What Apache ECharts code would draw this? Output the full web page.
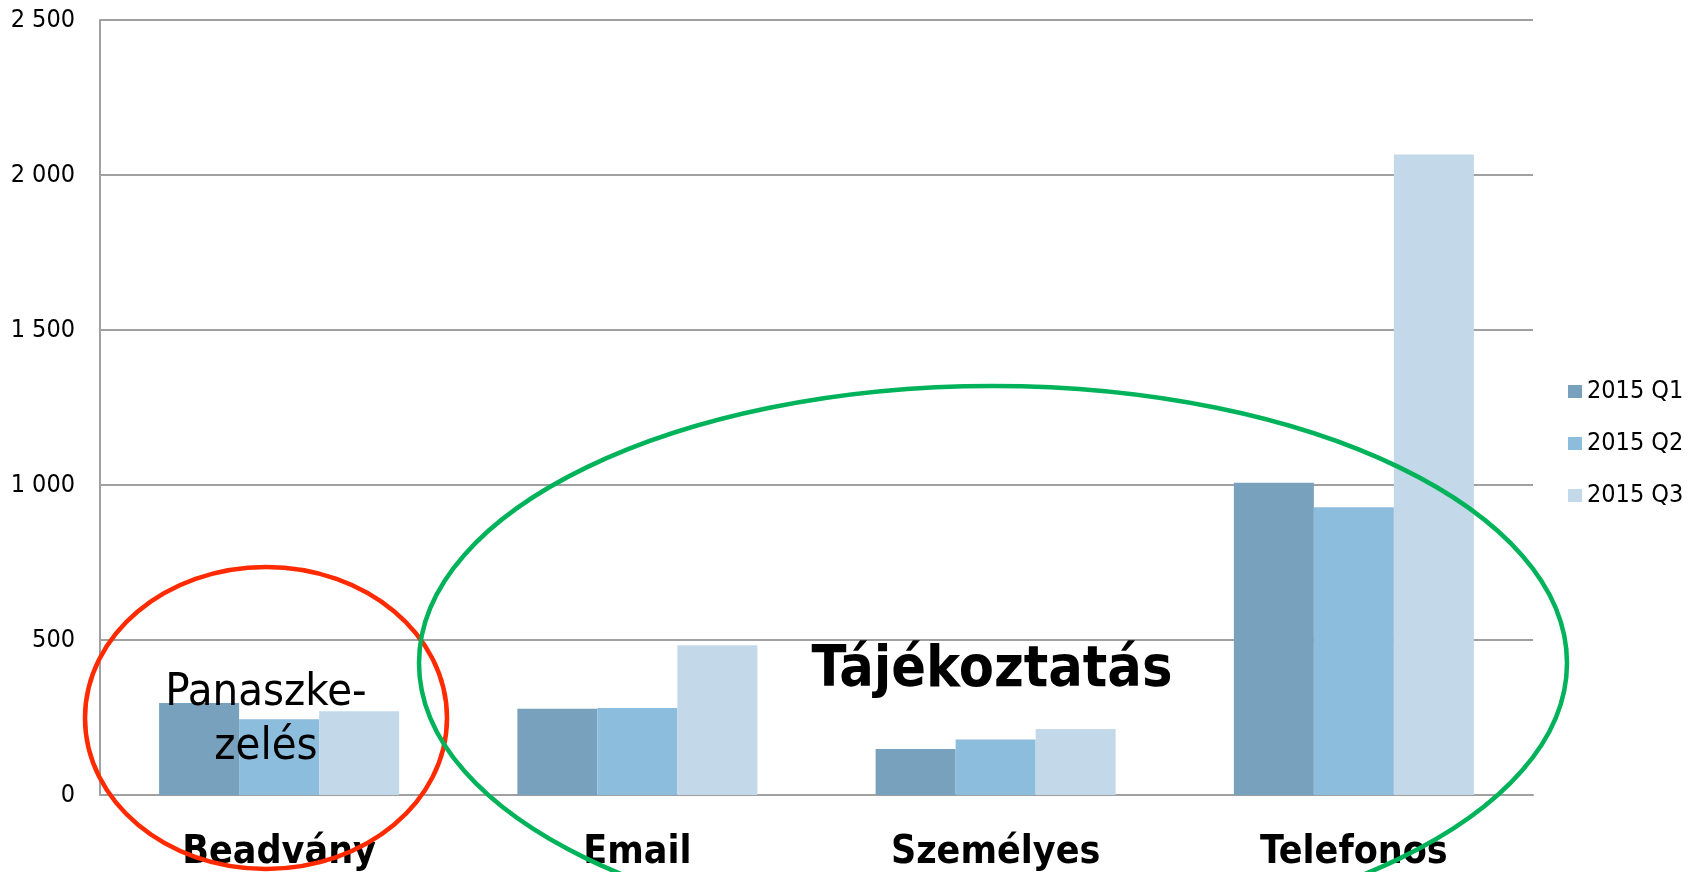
<!DOCTYPE html>
<html>
<head>
<meta charset="utf-8">
<script src="https://cdn.jsdelivr.net/npm/echarts@6/dist/echarts.min.js"></script>
<style>
html, body { margin: 0; padding: 0; background: #fff; }
#chart { width: 1698px; height: 872px; }
</style>
</head>
<body>
<div id="chart"></div>
<script>
// adatok
var categories = ["Beadvány", "Email", "Személyes", "Telefonos"];
var seriesNames = ["2015 Q1", "2015 Q2", "2015 Q3"];
var q1 = [297, 278, 148, 1007];
var q2 = [244, 281, 179, 928];
var q3 = [270, 483, 213, 2066];
var colors = ["#77a1bd", "#8cbddc", "#c3d8e8"];

var font = "'DejaVu Sans Condensed', 'DejaVu Sans', sans-serif";
var chart = echarts.init(document.getElementById("chart"));

function fmt(v) {
    // ezres elválasztó szóközzel
    return String(v).replace(/\B(?=(\d{3})+(?!\d))/g, " ");
}

chart.setOption({
    animation: false,
    color: colors,
    grid: {
        left: 100,
        right: 165,
        top: 20,
        bottom: 77
    },
    legend: {
        orient: "vertical",
        left: 1563,
        top: 374,
        itemWidth: 14,
        itemHeight: 13,
        itemGap: 27,
        icon: "rect",
        textStyle: {
            fontFamily: font,
            fontSize: 25,
            color: "#000"
        },
        data: seriesNames
    },
    xAxis: {
        type: "category",
        data: categories,
        axisTick: { show: false },
        axisLine: {
            lineStyle: { color: "#a0a0a0", width: 2 }
        },
        axisLabel: {
            margin: 38,
            fontFamily: font,
            fontWeight: "bold",
            fontSize: 39,
            color: "#000"
        }
    },
    yAxis: {
        type: "value",
        min: 0,
        max: 2500,
        interval: 500,
        axisLine: {
            show: true,
            lineStyle: { color: "#a0a0a0", width: 2 }
        },
        axisTick: { show: false },
        splitLine: {
            lineStyle: { color: "#a0a0a0", width: 2 }
        },
        axisLabel: {
            margin: 25,
            fontFamily: font,
            fontSize: 25,
            color: "#000",
            formatter: fmt
        }
    },
    series: [
        { name: seriesNames[0], type: "bar", data: q1, barGap: "0%", barCategoryGap: "33%" },
        { name: seriesNames[1], type: "bar", data: q2, barGap: "0%", barCategoryGap: "33%" },
        { name: seriesNames[2], type: "bar", data: q3, barGap: "0%", barCategoryGap: "33%" }
    ],
    graphic: [
        {
            type: "ellipse",
            z: 100,
            shape: { cx: 266, cy: 718, rx: 181, ry: 151 },
            style: { fill: null, stroke: "#ff2a00", lineWidth: 4.5 }
        },
        {
            type: "ellipse",
            z: 100,
            shape: { cx: 993, cy: 663, rx: 574, ry: 277 },
            style: { fill: null, stroke: "#00b35a", lineWidth: 4.5 }
        },
        {
            type: "text",
            z: 101,
            x: 266,
            y: 693,
            style: {
                text: "Panaszke-",
                font: "45px " + font,
                fill: "#000",
                align: "center",
                verticalAlign: "middle"
            }
        },
        {
            type: "text",
            z: 101,
            x: 266,
            y: 747,
            style: {
                text: "zelés",
                font: "45px " + font,
                fill: "#000",
                align: "center",
                verticalAlign: "middle"
            }
        },
        {
            type: "text",
            z: 101,
            x: 992,
            y: 671,
            style: {
                text: "Tájékoztatás",
                font: "bold 57px " + font,
                fill: "#000",
                align: "center",
                verticalAlign: "middle"
            }
        }
    ]
});
</script>
</body>
</html>
